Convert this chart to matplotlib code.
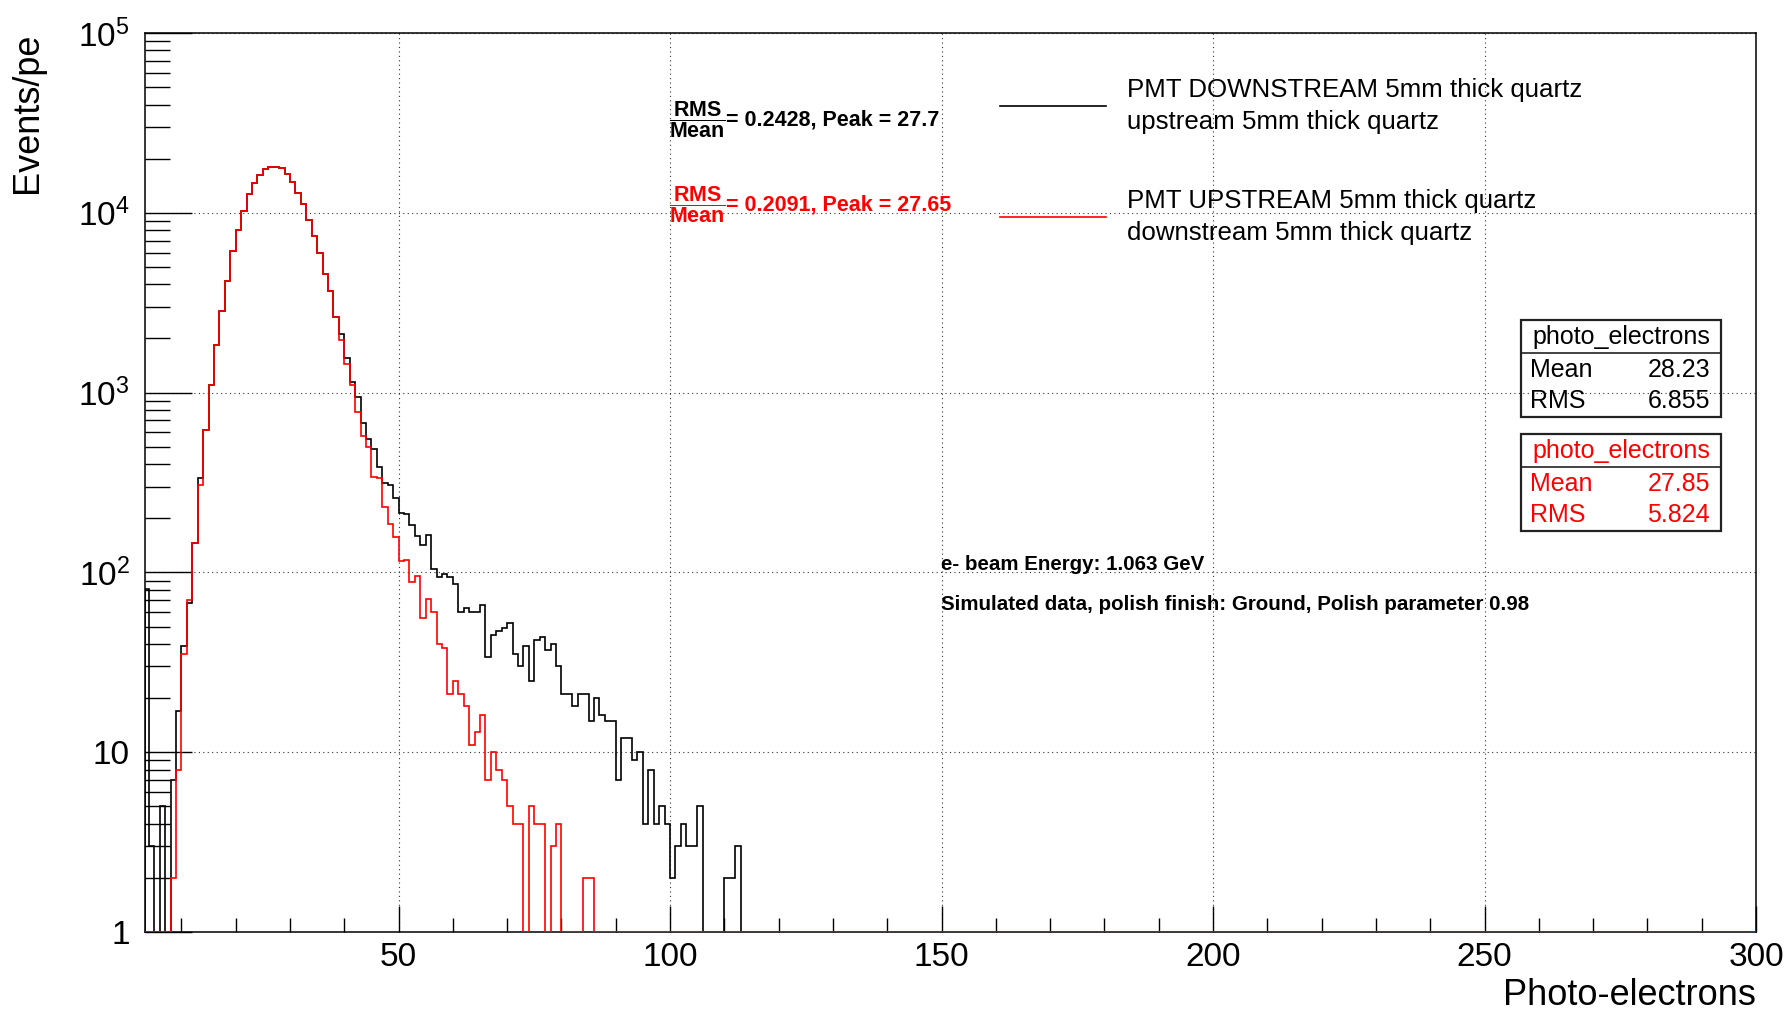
"""
Photo-electron spectra, PMT downstream vs upstream (5mm quartz)
ROOT-style log histogram redrawn with matplotlib
"""

import numpy as np
import matplotlib
matplotlib.use("Agg")
import matplotlib.pyplot as plt
from matplotlib.lines import Line2D
from matplotlib.patches import Rectangle
from matplotlib.ticker import FixedLocator, FixedFormatter, LogLocator, NullFormatter

plt.rcParams['font.family'] = ['Liberation Sans', 'DejaVu Sans']
plt.rcParams['mathtext.fontset'] = 'custom'
plt.rcParams['mathtext.rm'] = 'Liberation Sans'
plt.rcParams['mathtext.bf'] = 'Liberation Sans:bold'
plt.rcParams['mathtext.it'] = 'Liberation Sans:italic'

# 1 pe wide bins, first bin is [3, 4)
first_bin = 3
last_edge = 300

# PMT DOWNSTREAM (black), bins 3..112
downstream_counts = [
    81, 3, 0, 5, 0, 7, 17, 39, 68,
    145, 333, 617, 1100, 1850, 2830, 4190, 6150, 8040, 10250,
    12740, 14600, 16300, 17570, 18070, 18070, 17800, 16480, 14800, 12850,
    11130, 9150, 7400, 5970, 4540, 3670, 2630, 2130, 1565, 1145,
    945, 675, 550, 485, 386, 315, 305, 258, 213, 210,
    183, 159, 142, 162, 104, 94, 98, 94, 86, 60,
    63, 60, 60, 66, 34, 45, 47, 49, 52, 35,
    30, 39, 25, 42, 44, 37, 40, 30, 21, 21,
    18, 21, 21, 15, 20, 16, 15, 15, 7, 12,
    12, 9, 10, 4, 8, 4, 5, 4, 2, 3,
    4, 3, 3, 5, 0, 0, 0, 0, 2, 2,
    3,
]

# PMT UPSTREAM (red), bins 3..85
upstream_counts = [
    0, 0, 0, 0, 0, 2, 8, 35, 70,
    145, 305, 617, 1100, 1850, 2830, 4190, 6150, 8040, 10250,
    12740, 14600, 16300, 17570, 18070, 18070, 17800, 16480, 14800, 12850,
    11130, 9150, 7400, 5970, 4540, 3670, 2630, 1970, 1450, 1100,
    780, 570, 499, 338, 337, 231, 185, 158, 115, 117,
    88, 95, 56, 71, 60, 40, 38, 21, 25, 21,
    18, 11, 13, 16, 7, 10, 8, 7, 5, 4,
    4, 0, 5, 4, 4, 0, 3, 4, 0, 0,
    0, 0, 2, 2,
]

x_ticks = [50, 100, 150, 200, 250, 300]
y_ticks = [1, 10, 100, 1e3, 1e4, 1e5]
y_tick_labels = ['1', '10', r'$10^{2}$', r'$10^{3}$', r'$10^{4}$', r'$10^{5}$']

x_min, x_max = 3.3, 300
y_min, y_max = 1, 1e5

downstream_stats = {'Mean': '28.23', 'RMS': '6.855'}
upstream_stats = {'Mean': '27.85', 'RMS': '5.824'}

W, H = 1788, 1011


def fxy(px, py):
    """pixel (from top-left) -> figure fraction"""
    return px / W, 1 - py / H


def padded(counts):
    n_bins = last_edge - first_bin
    vals = np.zeros(n_bins)
    vals[:len(counts)] = counts
    # ROOT draws empty bins on the bottom of a log axis
    return np.clip(vals, y_min, None)


def stats_box(fig, top, color, stats):
    x0, x1 = 1521, 1721
    h, sep = 97, 33
    fig.add_artist(Rectangle(fxy(x0, top + h), (x1 - x0) / W, h / H,
                             transform=fig.transFigure, fill=False,
                             ec='#222222', lw=1.6))
    xs = [x0 / W, x1 / W]
    fig.add_artist(Line2D(xs, [fxy(0, top + sep)[1]] * 2,
                          transform=fig.transFigure, color='#222222', lw=1.2))
    fig.text(*fxy((x0 + x1) / 2, top + 17), 'photo_electrons', color=color,
             fontsize=18, ha='center', va='center')
    for i, (key, val) in enumerate(stats.items()):
        y = top + 50 + i * 31
        fig.text(*fxy(x0 + 9, y), key, color=color, fontsize=18, ha='left', va='center')
        fig.text(*fxy(x1 - 11, y), val, color=color, fontsize=18, ha='right', va='center')


def ratio_label(fig, yc, color, text):
    # RMS/Mean fraction, then the numbers, like the TLatex original
    fig.text(*fxy(669, yc), r'$\dfrac{\mathbf{RMS}}{\mathbf{Mean}}$', fontsize=15.5,
             color=color, ha='left', va='center')
    fig.text(*fxy(726, yc), text, fontsize=15.5, fontweight='bold', color=color,
             ha='left', va='center')


edges = np.arange(first_bin, last_edge + 1, dtype=float)
edges[0] = x_min

fig = plt.figure(figsize=(W / 100, H / 100), dpi=100)
left, right = fxy(145, 0)[0], fxy(1756, 0)[0]
bottom, top = fxy(0, 932)[1], fxy(0, 33)[1]
ax = fig.add_axes([left, bottom, right - left, top - bottom])

ax.stairs(padded(downstream_counts), edges, color='black', lw=1.2, zorder=3)
ax.stairs(padded(upstream_counts), edges, color='#ff0000', lw=1.2, zorder=4)

ax.set_yscale('log')
ax.set_xlim(x_min, x_max)
ax.set_ylim(y_min, y_max)

ax.xaxis.set_major_locator(FixedLocator(x_ticks))
ax.xaxis.set_minor_locator(FixedLocator([v for v in range(10, 300, 10) if v % 50]))
ax.yaxis.set_major_locator(FixedLocator(y_ticks))
ax.yaxis.set_major_formatter(FixedFormatter(y_tick_labels))
ax.yaxis.set_minor_locator(LogLocator(base=10, subs=range(2, 10)))
ax.yaxis.set_minor_formatter(NullFormatter())

ax.tick_params(axis='x', which='major', direction='in', length=19, width=1,
               labelsize=24, pad=7)
ax.tick_params(axis='x', which='minor', direction='in', length=10, width=1)
ax.tick_params(axis='y', which='major', direction='in', length=34, width=1,
               labelsize=24, pad=11)
ax.tick_params(axis='y', which='minor', direction='in', length=18, width=1)

ax.grid(True, which='major', color='#333333', lw=0.8, ls=(0, (1, 3)))
for sp in ax.spines.values():
    sp.set_linewidth(1.1)

ax.set_xlabel('Photo-electrons', fontsize=26, loc='right')
ax.xaxis.set_label_coords(1.0, -0.051)
ax.set_ylabel('Events/pe', fontsize=26, loc='top')
ax.yaxis.set_label_coords(-0.062, 1.0)

ratio_label(fig, 120, 'black', '= 0.2428, Peak = 27.7')
ratio_label(fig, 205, '#ff0000', '= 0.2091, Peak = 27.65')

# legend, drawn by hand (ROOT TLegend without frame)
for yc, col, label in [(106, 'black', 'PMT DOWNSTREAM 5mm thick quartz\nupstream 5mm thick quartz'),
                       (217, '#ff0000', 'PMT UPSTREAM 5mm thick quartz\ndownstream 5mm thick quartz')]:
    (xa, ya), (xb, _) = fxy(1000, yc), fxy(1106, yc)
    fig.add_artist(Line2D([xa, xb], [ya, ya], transform=fig.transFigure, color=col, lw=1.2))
    fig.text(*fxy(1127, yc), label, fontsize=18.6, ha='left', va='center', linespacing=1.45)

fig.text(*fxy(941, 565), 'e- beam Energy: 1.063 GeV', fontsize=14.8,
         fontweight='bold', ha='left', va='center')
fig.text(*fxy(941, 605), 'Simulated data, polish finish: Ground, Polish parameter 0.98',
         fontsize=14.8, fontweight='bold', ha='left', va='center')

stats_box(fig, 320, 'black', downstream_stats)
stats_box(fig, 434, '#ff0000', upstream_stats)

fig.savefig('out.png', dpi=100)
